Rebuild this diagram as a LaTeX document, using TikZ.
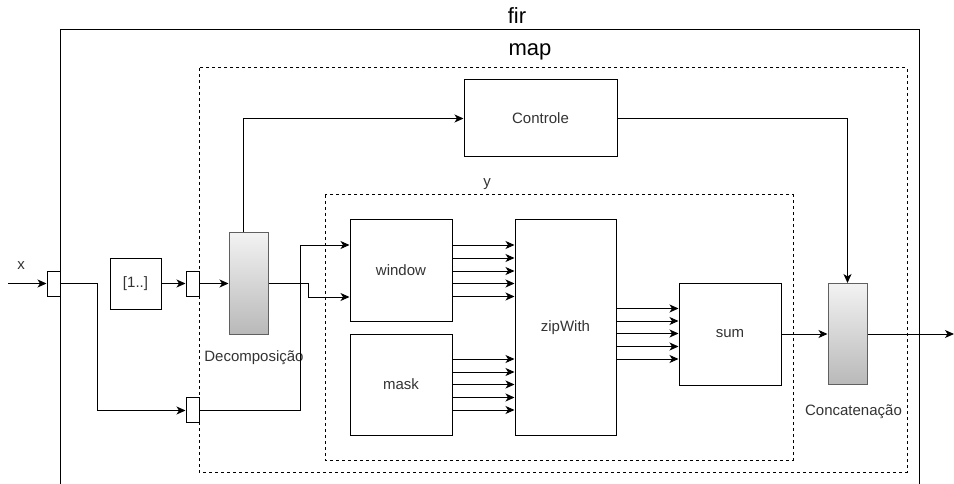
\documentclass[tikz,border=0pt]{standalone}
\usepackage{fontspec}
\setmainfont{Liberation Sans}
\usetikzlibrary{arrows.meta,calc}
\definecolor{txt}{HTML}{333333}
\tikzset{
  box/.style={draw=black, line width=1pt, fill=white, inner sep=0pt, text=txt, font=\fontsize{15}{17}\selectfont},
  port/.style={draw=black, line width=1pt, fill=white, inner sep=0pt, minimum width=13, minimum height=25},
  bar/.style={draw=gray!75!black, line width=1pt, inner sep=0pt, top color=gray!10, bottom color=gray!55, minimum width=39, minimum height=101},
  dbox/.style={draw=black, line width=1pt, dash pattern=on 3pt off 3pt},
  arr/.style={draw=black, line width=1pt, -{Stealth[length=9pt,width=8pt,inset=2.5pt]}},
  ln/.style={draw=black, line width=1pt},
  lbl/.style={text=txt, inner sep=0pt, font=\fontsize{15}{17}\selectfont},
  big/.style={text=black, inner sep=0pt, font=\fontsize{22}{24}\selectfont},
}
\begin{document}
\begin{tikzpicture}[x=1pt,y=-1pt]
\useasboundingbox (0,0) rectangle (954,484);
\clip (0,0) rectangle (954,484);
% outer fir box
\draw[ln] (60,500) rectangle (919,30);
\node[big] (firlbl) at (517,16) {fir};
% map dashed box
\draw[dbox] (199,68) rectangle (907,472);
\node[big] (maplbl) at (530,52) {map};
% y dashed box
\draw[dbox] (325,195) rectangle (793,460);
\node[lbl] (ylbl) at (487,184) {y};
% boxes
\node[box, minimum width=153, minimum height=77] (ctrl) at (540.5,118.5) {Controle};
\node[box, minimum width=102, minimum height=101] (window) at (401,270.5) {window};
\node[box, minimum width=102, minimum height=101] (mask) at (401,384.5) {mask};
\node[box, minimum width=101, minimum height=215] (zip) at (565.5,327.5) {zipWith};
\node[box, minimum width=102, minimum height=102] (sum) at (730,334) {sum};
\node[box, minimum width=51, minimum height=51] (range) at (135.5,283.5) {[1..]};
% ports
\node[port] (p1) at (53.5,283.5) {};
\node[port] (p2) at (192.5,283.5) {};
\node[port] (p3) at (192.5,409.5) {};
% bars
\node[bar] (dec) at (248.5,283.5) {};
\node[lbl] (declbl) at (254,358) {Decomposição};
\node[bar] (cat) at (847.5,334) {};
\node[lbl] (catlbl) at (853.5,412) {Concatenação};
% input
\coordinate (xin) at (8,283.5);
\node[lbl] (xlbl) at (21,266) {x};
\draw[arr] (xin) -- (p1.west);
\draw[arr] (p1.east) -- (97,283.5) -- (97,410.5) -- (p3.west |- 0,410.5);
\draw[arr] (range.east) -- (p2.west);
\draw[arr] (p2.east) -- (dec.west);
% decomposition to controle
\draw[arr] (dec.north -| 243,0) -- (243,118.5) -- (ctrl.west);
% decomposition to window
\draw[arr] (dec.east) -- (308,283.5) -- (308,297) -- (window.west |- 0,297);
\draw[arr] (p3.east |- 0,410.5) -- (300,410.5) -- (300,245) -- (window.west |- 0,245);
% window/mask to zip
\foreach \yy in {245,258,271,283.5,296.5} {
  \draw[arr] (window.east |- 0,\yy) -- (zip.west |- 0,\yy);
}
\foreach \yy in {359,372,384.5,397.5,410} {
  \draw[arr] (mask.east |- 0,\yy) -- (zip.west |- 0,\yy);
}
% zip to sum
\foreach \yy in {308.5,321,333.5,346.5,359} {
  \draw[arr] (zip.east |- 0,\yy) -- (sum.west |- 0,\yy);
}
% sum to concat
\draw[arr] (sum.east) -- (cat.west);
\draw[arr] (ctrl.east) -- (847.5,118.5) -- (cat.north);
\coordinate (out) at (954,334);
\draw[arr] (cat.east) -- (out);
\end{tikzpicture}
\end{document}
